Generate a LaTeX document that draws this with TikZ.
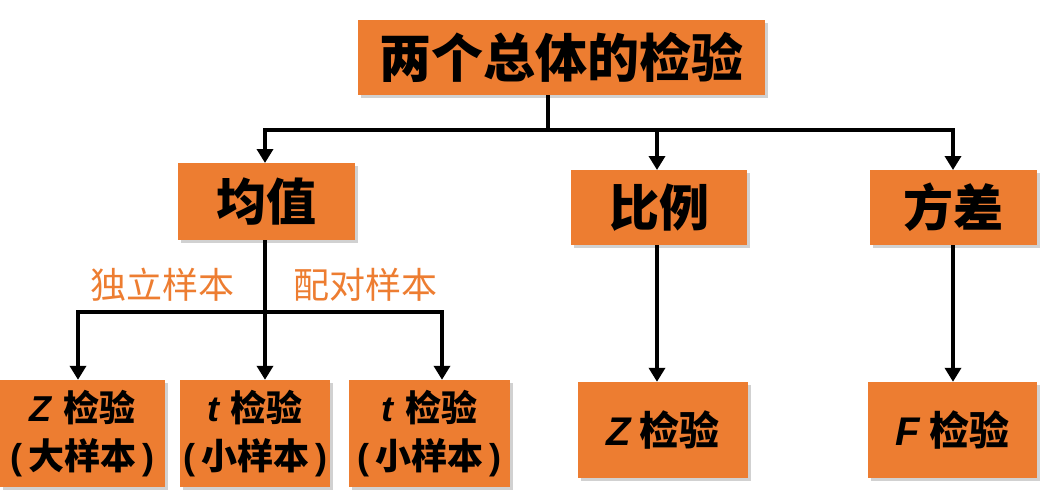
\documentclass[tikz,border=0pt]{standalone}
\usepackage{fontspec}
\setmainfont{Liberation Sans}
\newfontfamily\cjk{Noto Sans CJK SC}[BoldFont={Noto Sans CJK SC Black}]
\usetikzlibrary{arrows.meta,shadows}
\definecolor{boxorange}{HTML}{ED7D31}
\tikzset{
  testbox/.style={fill=boxorange, inner sep=0pt, align=center,
    font=\cjk\bfseries, text=black,
    drop shadow={shadow xshift=3pt, shadow yshift=-3pt, fill=black!18, opacity=1}},
  conn/.style={line width=3.6pt, -{Triangle[length=14pt,width=16pt]}},
  link/.style={line width=3.6pt},
  side/.style={font=\cjk\fontsize{36}{38}\selectfont, text=boxorange}
}
\newcommand{\latin}[1]{{\normalfont\bfseries\itshape #1}}
\newcommand{\paren}[1]{{\normalfont\bfseries(}\,#1\,{\normalfont\bfseries)}}
\begin{document}
\begin{tikzpicture}[x=1pt,y=-1pt]
\useasboundingbox (0,0) rectangle (1061,503);
\node[testbox, minimum width=407, minimum height=75, font=\cjk\bfseries\fontsize{52}{56}\selectfont] (top) at (561.5,57.5) {两个总体的检验};
\node[testbox, minimum width=177, minimum height=77, font=\cjk\bfseries\fontsize{50}{56}\selectfont] (mean) at (266.5,201.5) {均值};
\node[testbox, minimum width=176, minimum height=75, font=\cjk\bfseries\fontsize{50}{56}\selectfont] (prop) at (659,207.5) {比例};
\node[testbox, minimum width=167, minimum height=75, font=\cjk\bfseries\fontsize{50}{56}\selectfont] (var) at (953.5,207.5) {方差};
\node[testbox, minimum width=165, minimum height=107, text width=165, font=\cjk\bfseries\fontsize{36}{48}\selectfont] (zbig) at (82.5,433.5) {\latin{Z} 检验\\\paren{大样本}};
\node[testbox, minimum width=150, minimum height=107, text width=150, font=\cjk\bfseries\fontsize{36}{48}\selectfont] (tind) at (255,433.5) {\latin{t} 检验\\\paren{小样本}};
\node[testbox, minimum width=161, minimum height=107, text width=161, font=\cjk\bfseries\fontsize{36}{48}\selectfont] (tpair) at (429.5,433.5) {\latin{t} 检验\\\paren{小样本}};
\node[testbox, minimum width=170, minimum height=96, font=\cjk\bfseries\fontsize{40}{52}\selectfont] (zprop) at (663,430) {\latin{Z} 检验};
\node[testbox, minimum width=169, minimum height=96, font=\cjk\bfseries\fontsize{40}{52}\selectfont] (ftest) at (952.5,430) {\latin{F} 检验};
\node[side] (indep) at (162,285) {独立样本};
\node[side] (pair) at (365,285) {配对样本};
\coordinate (tj) at (548,130);
\coordinate (mj) at (265,312);
\draw[link] (top.south -| tj) -- (tj);
\draw[link] (265,130) -- (953,130);
\draw[conn] (265,128.2) -- (265,163);
\draw[conn] (657,130) -- (657,170);
\draw[conn] (953,128.2) -- (953,170);
\draw[link] (mean.south -| mj) -- (mj);
\draw[link] (78,312) -- (442,312);
\draw[conn] (78,310.2) -- (zbig.north -| 78,0);
\draw[conn] (mj) -- (tind.north -| mj);
\draw[conn] (442,310.2) -- (tpair.north -| 442,0);
\draw[conn] (prop.south -| 657,0) -- (zprop.north -| 657,0);
\draw[conn] (var.south -| 953,0) -- (ftest.north -| 953,0);
\end{tikzpicture}
\end{document}
